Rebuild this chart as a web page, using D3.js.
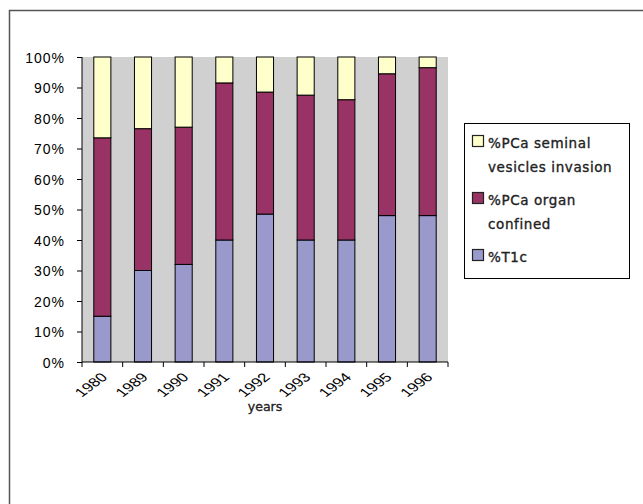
<!DOCTYPE html>
<html>
<head>
<meta charset="utf-8">
<script src="https://cdn.jsdelivr.net/npm/d3@7"></script>
<style>
  body { margin: 0; background: #fff; }
</style>
</head>
<body>
<div id="chart"></div>
<script>
const years = ["1980", "1989", "1990", "1991", "1992", "1993", "1994", "1995", "1996"];
const t1c = [15, 30, 32, 40, 48.5, 40, 40, 48, 48];
const organConfined = [58.5, 46.5, 45, 51.5, 40, 47.5, 46, 46.5, 48.5];
const seminalInvasion = [26.5, 23.5, 23, 8.5, 11.5, 12.5, 14, 5.5, 3.5];
const yTicks = [0, 10, 20, 30, 40, 50, 60, 70, 80, 90, 100];

const seriesNames = ["%T1c", "%PCa organ confined", "%PCa seminal vesicles invasion"];
const colors = ["#9999cc", "#993366", "#ffffcc"];

const width = 643;
const height = 504;
const plot = { left: 82, right: 448, top: 57, bottom: 362 };
const axisFont = "'Liberation Sans', Arial, sans-serif";
const labelFont = "'DejaVu Sans', sans-serif";

const svg = d3.select("#chart").append("svg").attr("width", width).attr("height", height);

// outer frame
svg.append("rect")
  .attr("x", 9.5).attr("y", 10.5)
  .attr("width", width).attr("height", height)
  .attr("fill", "none").attr("stroke", "#555").attr("stroke-width", 1.5);

// build stacked table (normalised to 100%)
const rows = years.map((y, i) => {
  const total = t1c[i] + organConfined[i] + seminalInvasion[i];
  return { year: y, a: t1c[i] / total * 100, b: organConfined[i] / total * 100, c: seminalInvasion[i] / total * 100 };
});
const stack = d3.stack().keys(["a", "b", "c"])(rows);

const x = d3.scaleBand().domain(years).range([plot.left, plot.right]).paddingInner(0.58).paddingOuter(0.29);
const xTicks = d3.scaleBand().domain(years).range([plot.left, plot.right]);
const y = d3.scaleLinear().domain([0, 100]).range([plot.bottom, plot.top]);

// plot background
svg.append("rect")
  .attr("x", plot.left).attr("y", plot.top)
  .attr("width", plot.right - plot.left).attr("height", plot.bottom - plot.top)
  .attr("fill", "#d0d0d0");

// bars
svg.append("g").selectAll("g")
  .data(stack)
  .enter()
  .append("g")
  .attr("fill", (d, i) => colors[i])
  .selectAll("rect")
  .data((d) => d)
  .enter()
  .append("rect")
  .attr("x", (d) => x(d.data.year))
  .attr("width", x.bandwidth())
  .attr("y", (d) => y(d[1]))
  .attr("height", (d) => y(d[0]) - y(d[1]))
  .attr("stroke", "#000")
  .attr("stroke-width", 1);

// y axis
const yAxis = svg.append("g")
  .attr("transform", `translate(${plot.left},0)`)
  .call(d3.axisLeft(y).tickValues(yTicks).tickFormat((d) => d + "%").tickSize(5).tickPadding(12));
yAxis.attr("font-family", axisFont).attr("font-size", 14);
yAxis.selectAll("text").attr("fill", "#000").attr("letter-spacing", 1).attr("dy", "0.36em");
yAxis.selectAll("line,path").attr("stroke", "#000");
yAxis.select(".domain").attr("d", `M0,${plot.top}V${plot.bottom}`);

// x axis: ticks at category boundaries
const xAxis = svg.append("g").attr("transform", `translate(0,${plot.bottom})`);
xAxis.append("line")
  .attr("x1", plot.left).attr("x2", plot.right)
  .attr("stroke", "#000");
xAxis.selectAll(".tick")
  .data(years.concat(["end"]))
  .enter()
  .append("line")
  .attr("x1", (d, i) => i < years.length ? xTicks(d) : plot.right)
  .attr("x2", (d, i) => i < years.length ? xTicks(d) : plot.right)
  .attr("y1", 0).attr("y2", 5)
  .attr("stroke", "#000");
// labels look horizontally stretched in the original, so stretch after rotating
xAxis.selectAll(".lbl")
  .data(years)
  .enter()
  .append("text")
  .attr("transform", (d) => `translate(${xTicks(d) + xTicks.bandwidth() / 2 + 6},${16}) scale(1.35,1) rotate(-45)`)
  .attr("text-anchor", "end")
  .attr("font-family", axisFont)
  .attr("font-size", 12.5)
  .text((d) => d);

// axis title
svg.append("text")
  .attr("x", (plot.left + plot.right) / 2)
  .attr("y", 411)
  .attr("text-anchor", "middle")
  .attr("font-family", labelFont)
  .attr("font-size", 12.5)
  .attr("fill", "#222")
  .attr("stroke", "#222").attr("stroke-width", 0.35)
  .text("years");

// legend
const legend = svg.append("g");
legend.append("rect")
  .attr("x", 464.5).attr("y", 123.5).attr("width", 165).attr("height", 155)
  .attr("fill", "#fff").attr("stroke", "#000");

const legendItems = [
  { i: 2, lines: ["%PCa seminal", "vesicles invasion"], y: 148 },
  { i: 1, lines: ["%PCa organ", "confined"], y: 205 },
  { i: 0, lines: ["%T1c"], y: 262 }
];
legendItems.forEach((item) => {
  legend.append("rect")
    .attr("x", 472.5).attr("y", item.y - 12.5).attr("width", 11).attr("height", 11)
    .attr("fill", colors[item.i]).attr("stroke", "#222").attr("stroke-width", 1.2);
  legend.append("text")
    .attr("x", 488).attr("y", item.y)
    .attr("font-family", labelFont)
    .attr("font-size", 13.5)
    .attr("letter-spacing", 0.6)
    .attr("fill", "#222")
    .attr("stroke", "#222").attr("stroke-width", 0.35)
    .selectAll("tspan")
    .data(item.lines)
    .enter()
    .append("tspan")
    .attr("x", 488)
    .attr("dy", (d, k) => k === 0 ? 0 : 24)
    .text((d) => d);
});
</script>
</body>
</html>
